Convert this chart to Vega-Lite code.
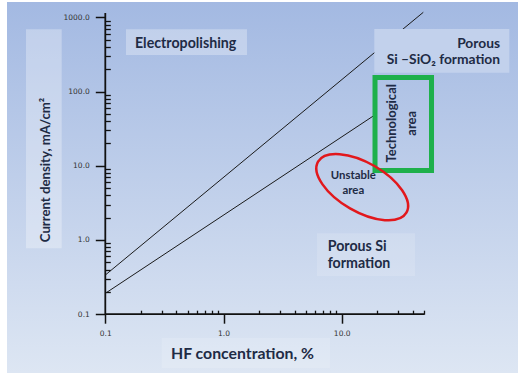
{
  "$schema": "https://vega.github.io/schema/vega-lite/v6.json",
  "width": 511,
  "height": 371,
  "autosize": {"type": "none"},
  "padding": {"left": 7, "top": 2, "right": 0, "bottom": 3},
  "background": "#ffffff",
  "view": {
    "stroke": null,
    "fill": {"gradient": "linear", "x1": 0, "y1": 0, "x2": 0, "y2": 1,
      "stops": [{"offset": 0, "color": "#a3b9e2"}, {"offset": 1, "color": "#dde6f3"}]}
  },
  "datasets": {
    "boxesStrong": [
      {"x0": 0.1496, "x1": 1.58, "y0": 311.4, "y1": 691},
      {"x0": 0.02134, "x1": 0.04277, "y0": 0.7729, "y1": 691}
    ],
    "boxesFaint": [
      {"x0": 6.18, "x1": 41.7, "y0": 0.327, "y1": 1.231},
      {"x0": 0.3, "x1": 7.96, "y0": 0.01884, "y1": 0.04777}
    ],
    "boxSiO2": [{"x0": 18.87, "x1": 261.8, "y0": 179.8, "y1": 697.9}],
    "curves": [
      {"series": "upper", "hf": 0.1, "j": 0.337},
      {"series": "upper", "hf": 49, "j": 1172},
      {"series": "lower", "hf": 0.1, "j": 0.191},
      {"series": "lower", "hf": 18.5, "j": 46.9}
    ],
    "axisLines": [
      {"x0": 0.1, "y0": 0.1, "x1": 0.1, "y1": 1146},
      {"x0": 0.1, "y0": 0.1, "x1": 50, "y1": 0.1}
    ],
    "tech": [{"x0": 19.13, "x1": 57.5, "y0": 8.64, "y1": 154.9}],
    "unstable": [{"x": 14.91, "y": 5.148}],
    "leftLabels": [
      {"t": "Electropolishing", "x": 0.1783, "y": 383.3},
      {"t": "Porous Si", "x": 7.615, "y": 0.7108},
      {"t": "formation", "x": 7.615, "y": 0.4157}
    ],
    "rightLabels": [
      {"t": "Porous", "x": 218.4, "y": 390.5},
      {"t": "Si –SiO₂ formation", "x": 218.4, "y": 233.3}
    ],
    "unstableLabels": [
      {"t": "Unstable", "x": 12.53, "y": 6.577},
      {"t": "area", "x": 12.53, "y": 4.129}
    ],
    "techLabels": [
      {"t": "Technological", "x": 26.48, "y": 37.4},
      {"t": "area", "x": 39.1, "y": 37.4}
    ],
    "yTitle": [{"t": "Current density, mA/cm²", "x": 0.03404, "y": 8.777}],
    "xTitle": [{"t": "HF concentration, %", "x": 1.4479, "y": 0.0249}]
  },
  "resolve": {"axis": {"x": "independent", "y": "independent"}},
  "layer": [
    {
      "data": {"name": "boxesStrong"},
      "mark": {"type": "rect", "fill": "#ffffff", "opacity": 0.3},
      "encoding": {
        "x": {"field": "x0", "type": "quantitative", "axis": null,
          "scale": {"type": "log", "domain": [0.014737, 310.0], "nice": false}},
        "x2": {"field": "x1"},
        "y": {"field": "y0", "type": "quantitative", "axis": null,
          "scale": {"type": "log", "domain": [0.016124, 1612.6], "nice": false}},
        "y2": {"field": "y1"}
      }
    },
    {
      "data": {"name": "boxesFaint"},
      "mark": {"type": "rect", "fill": "#ffffff", "opacity": 0.15},
      "encoding": {
        "x": {"field": "x0", "type": "quantitative", "axis": null},
        "x2": {"field": "x1"},
        "y": {"field": "y0", "type": "quantitative", "axis": null},
        "y2": {"field": "y1"}
      }
    },
    {
      "data": {"name": "curves"},
      "mark": {"type": "line", "color": "#1a1a1a", "strokeWidth": 1},
      "encoding": {
        "x": {"field": "hf", "type": "quantitative",
          "axis": {"orient": "bottom", "offset": -58.8, "domain": false, "grid": false, "labels": false, "title": null,
            "values": [0.2, 0.3, 0.4, 0.5, 0.6, 0.7, 0.8, 0.9, 2, 3, 4, 5, 6, 7, 8, 9, 20, 30, 40, 50],
            "tickSize": -4, "tickWidth": 1.3, "tickColor": "#111111"}},
        "y": {"field": "j", "type": "quantitative",
          "axis": {"orient": "left", "offset": -98.3, "domain": false, "grid": false, "labels": false, "title": null,
            "values": [0.2, 0.3, 0.4, 0.5, 0.6, 0.7, 0.8, 0.9, 2, 3, 4, 5, 6, 7, 8, 9, 20, 30, 40, 50, 60, 70, 80, 90, 200, 300, 400, 500, 600, 700, 800, 900],
            "tickSize": -5, "tickWidth": 1.3, "tickColor": "#111111"}},
        "detail": {"field": "series"}
      }
    },
    {
      "data": {"name": "boxSiO2"},
      "mark": {"type": "rect", "fill": "#c2d1ec", "opacity": 1},
      "encoding": {
        "x": {"field": "x0", "type": "quantitative", "axis": null},
        "x2": {"field": "x1"},
        "y": {"field": "y0", "type": "quantitative", "axis": null},
        "y2": {"field": "y1"}
      }
    },
    {
      "data": {"name": "axisLines"},
      "mark": {"type": "rule", "color": "#111111", "strokeWidth": 1.8},
      "encoding": {
        "x": {"field": "x0", "type": "quantitative",
          "axis": {"orient": "bottom", "offset": -58.8, "domain": false, "grid": false, "title": null,
            "values": [0.1, 1, 10], "format": ".1f", "tickSize": 9, "tickWidth": 1.5, "tickColor": "#111111",
            "labelFont": "DejaVu Sans", "labelFontSize": 7.5, "labelColor": "#333333", "labelPadding": 6,
            "labelOverlap": false, "labelFlush": false}},
        "x2": {"field": "x1"},
        "y": {"field": "y0", "type": "quantitative",
          "axis": {"orient": "left", "offset": -98.3, "domain": false, "grid": false, "title": null,
            "values": [0.1, 1, 10, 100, 1000], "format": ".1f", "tickSize": 10, "tickWidth": 1.5, "tickColor": "#111111",
            "labelFont": "DejaVu Sans", "labelFontSize": 7.5, "labelColor": "#333333", "labelPadding": 6,
            "labelOverlap": false, "labelFlush": false}},
        "y2": {"field": "y1"}
      }
    },
    {
      "data": {"name": "tech"},
      "mark": {"type": "rect", "filled": false, "stroke": "#1eb04b", "strokeWidth": 5},
      "encoding": {
        "x": {"field": "x0", "type": "quantitative", "axis": null},
        "x2": {"field": "x1"},
        "y": {"field": "y0", "type": "quantitative", "axis": null},
        "y2": {"field": "y1"}
      }
    },
    {
      "data": {"name": "unstable"},
      "mark": {"type": "point", "filled": false, "opacity": 1, "stroke": "#e2181c", "strokeWidth": 2.5,
        "size": 10404, "angle": 30,
        "shape": "M1,0C1,0.2651,0.5523,0.48,0,0.48C-0.5523,0.48,-1,0.2651,-1,0C-1,-0.2651,-0.5523,-0.48,0,-0.48C0.5523,-0.48,1,-0.2651,1,0Z"},
      "encoding": {
        "x": {"field": "x", "type": "quantitative", "axis": null},
        "y": {"field": "y", "type": "quantitative", "axis": null}
      }
    },
    {
      "data": {"name": "leftLabels"},
      "mark": {"type": "text", "align": "left", "baseline": "alphabetic", "font": "Lato", "fontWeight": "bold", "fontSize": 14.2, "color": "#1e2b45"},
      "encoding": {
        "x": {"field": "x", "type": "quantitative", "axis": null},
        "y": {"field": "y", "type": "quantitative", "axis": null},
        "text": {"field": "t"}
      }
    },
    {
      "data": {"name": "rightLabels"},
      "mark": {"type": "text", "align": "right", "baseline": "alphabetic", "font": "Lato", "fontWeight": "bold", "fontSize": 13.8, "color": "#1e2b45"},
      "encoding": {
        "x": {"field": "x", "type": "quantitative", "axis": null},
        "y": {"field": "y", "type": "quantitative", "axis": null},
        "text": {"field": "t"}
      }
    },
    {
      "data": {"name": "unstableLabels"},
      "mark": {"type": "text", "align": "center", "baseline": "alphabetic", "font": "Lato", "fontWeight": "bold", "fontSize": 11.4, "color": "#1e2b45"},
      "encoding": {
        "x": {"field": "x", "type": "quantitative", "axis": null},
        "y": {"field": "y", "type": "quantitative", "axis": null},
        "text": {"field": "t"}
      }
    },
    {
      "data": {"name": "techLabels"},
      "mark": {"type": "text", "align": "center", "baseline": "middle", "angle": 270, "font": "Lato", "fontWeight": "bold", "fontSize": 13, "color": "#1e2b45"},
      "encoding": {
        "x": {"field": "x", "type": "quantitative", "axis": null},
        "y": {"field": "y", "type": "quantitative", "axis": null},
        "text": {"field": "t"}
      }
    },
    {
      "data": {"name": "yTitle"},
      "mark": {"type": "text", "align": "center", "baseline": "alphabetic", "angle": 270, "font": "Lato", "fontWeight": "bold", "fontSize": 13.2, "color": "#1e2b45"},
      "encoding": {
        "x": {"field": "x", "type": "quantitative", "axis": null},
        "y": {"field": "y", "type": "quantitative", "axis": null},
        "text": {"field": "t"}
      }
    },
    {
      "data": {"name": "xTitle"},
      "mark": {"type": "text", "align": "center", "baseline": "alphabetic", "font": "Lato", "fontWeight": "bold", "fontSize": 15.8, "color": "#1e2b45"},
      "encoding": {
        "x": {"field": "x", "type": "quantitative", "axis": null},
        "y": {"field": "y", "type": "quantitative", "axis": null},
        "text": {"field": "t"}
      }
    }
  ]
}
